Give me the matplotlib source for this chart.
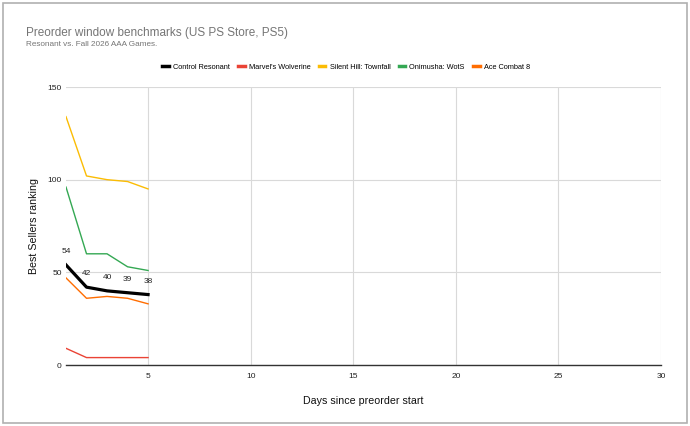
import matplotlib
matplotlib.use('Agg')
from matplotlib import pyplot as plt
from matplotlib.patches import Rectangle

plt.rcParams['font.family'] = ['Liberation Sans', 'DejaVu Sans']

days = [1, 2, 3, 4, 5]
control = [54, 42, 40, 39, 38]
wolverine = [9, 4, 4, 4, 4]
silent_hill = [134, 102, 100, 99, 95]
onimusha = [96, 60, 60, 53, 51]
ace_combat = [47, 36, 37, 36, 33]

names = ['Control Resonant', "Marvel's Wolverine", 'Silent Hill: Townfall',
         'Onimusha: WotS', 'Ace Combat 8']
colors = ['#000000', '#ea4335', '#fbbc04', '#34a853', '#ff6d01']
widths = [2.3, 1.0, 1.0, 1.0, 1.0]

fig = plt.figure(figsize=(6.9, 4.26), dpi=100)
ax = fig.add_axes([66/690, 1-365/426, (661-66)/690, (365-87)/426])

series = [control, wolverine, silent_hill, onimusha, ace_combat]
# control on top
for i in [1, 2, 3, 4, 0]:
    ax.plot(days, series[i], color=colors[i], lw=widths[i], label=names[i],
            zorder=3 if i == 0 else 2)

for d, v in zip(days, control):
    ax.annotate(str(v), (d, v), xytext=(0, 7), textcoords='offset points',
                ha='center', va='bottom', fontsize=6, color='#222222')

ax.set_xlim(1, 30)
ax.set_ylim(0, 150)
ax.set_xticks([5, 10, 15, 20, 25, 30])
ax.set_yticks([0, 50, 100, 150])
ax.tick_params(length=0, labelsize=6, colors='#222222')
ax.tick_params(axis='y', pad=3)
ax.tick_params(axis='x', pad=6)
ax.grid(color='#d9d9d9', lw=0.8)
ax.set_axisbelow(True)
for s in ['top', 'right', 'left']:
    ax.spines[s].set_visible(False)
ax.spines['bottom'].set_color('#333333')
ax.spines['bottom'].set_linewidth(1)

ax.set_xlabel('Days since preorder start', fontsize=7.7, color='#111111', labelpad=11)
ax.set_ylabel('Best Sellers ranking', fontsize=7.7, color='#111111', labelpad=6)

handles, labels = ax.get_legend_handles_labels()
order = [labels.index(n) for n in names]
leg = fig.legend([handles[i] for i in order], names, loc='center',
                 bbox_to_anchor=(346/690, 1-67/426), ncol=5, frameon=False,
                 fontsize=5.3, handlelength=0.9, handletextpad=0.55, columnspacing=1.15)
for h in leg.legend_handles:
    h.set_linewidth(2.5)

fig.text(26/690, 1-33/426, 'Preorder window benchmarks (US PS Store, PS5)',
         fontsize=8.5, color='#757575', va='center', ha='left')
fig.text(26/690, 1-45/426, 'Resonant vs. Fall 2026 AAA Games.',
         fontsize=5.9, color='#757575', va='center', ha='left')

fig.patches.append(Rectangle((3/690, 3/426), 684/690, 420/426, transform=fig.transFigure,
                             fill=False, edgecolor='#b0b0b0', lw=1.2))

fig.savefig('out.png', dpi=100)
